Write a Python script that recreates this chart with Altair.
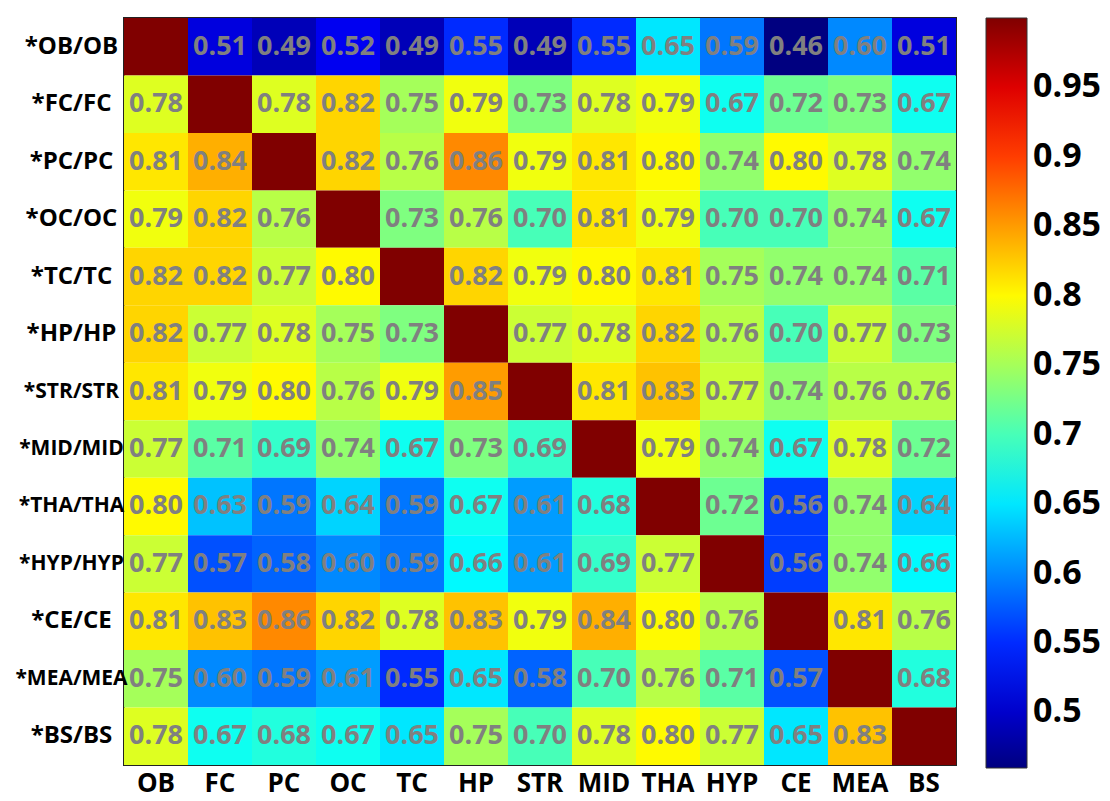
import altair as alt
import pandas as pd

cols = ["OB", "FC", "PC", "OC", "TC", "HP", "STR", "MID", "THA", "HYP", "CE", "MEA", "BS"]
rows = ["*OB/OB", "*FC/FC", "*PC/PC", "*OC/OC", "*TC/TC", "*HP/HP", "*STR/STR",
        "*MID/MID", "*THA/THA", "*HYP/HYP", "*CE/CE", "*MEA/MEA", "*BS/BS"]

row_OB = [1.00, 0.51, 0.49, 0.52, 0.49, 0.55, 0.49, 0.55, 0.65, 0.59, 0.46, 0.60, 0.51]
row_FC = [0.78, 1.00, 0.78, 0.82, 0.75, 0.79, 0.73, 0.78, 0.79, 0.67, 0.72, 0.73, 0.67]
row_PC = [0.81, 0.84, 1.00, 0.82, 0.76, 0.86, 0.79, 0.81, 0.80, 0.74, 0.80, 0.78, 0.74]
row_OC = [0.79, 0.82, 0.76, 1.00, 0.73, 0.76, 0.70, 0.81, 0.79, 0.70, 0.70, 0.74, 0.67]
row_TC = [0.82, 0.82, 0.77, 0.80, 1.00, 0.82, 0.79, 0.80, 0.81, 0.75, 0.74, 0.74, 0.71]
row_HP = [0.82, 0.77, 0.78, 0.75, 0.73, 1.00, 0.77, 0.78, 0.82, 0.76, 0.70, 0.77, 0.73]
row_STR = [0.81, 0.79, 0.80, 0.76, 0.79, 0.85, 1.00, 0.81, 0.83, 0.77, 0.74, 0.76, 0.76]
row_MID = [0.77, 0.71, 0.69, 0.74, 0.67, 0.73, 0.69, 1.00, 0.79, 0.74, 0.67, 0.78, 0.72]
row_THA = [0.80, 0.63, 0.59, 0.64, 0.59, 0.67, 0.61, 0.68, 1.00, 0.72, 0.56, 0.74, 0.64]
row_HYP = [0.77, 0.57, 0.58, 0.60, 0.59, 0.66, 0.61, 0.69, 0.77, 1.00, 0.56, 0.74, 0.66]
row_CE = [0.81, 0.83, 0.86, 0.82, 0.78, 0.83, 0.79, 0.84, 0.80, 0.76, 1.00, 0.81, 0.76]
row_MEA = [0.75, 0.60, 0.59, 0.61, 0.55, 0.65, 0.58, 0.70, 0.76, 0.71, 0.57, 1.00, 0.68]
row_BS = [0.78, 0.67, 0.68, 0.67, 0.65, 0.75, 0.70, 0.78, 0.80, 0.77, 0.65, 0.83, 1.00]

matrix = [row_OB, row_FC, row_PC, row_OC, row_TC, row_HP, row_STR,
          row_MID, row_THA, row_HYP, row_CE, row_MEA, row_BS]

legend_ticks = [0.5, 0.55, 0.6, 0.65, 0.7, 0.75, 0.8, 0.85, 0.9, 0.95]

# jet colormap stops over [0.46, 1.0]
cmin, cmax = 0.46, 1.0
jet_frac = [0.0, 0.125, 0.375, 0.625, 0.875, 1.0]
jet_cols = ["#000080", "#0000ff", "#00ffff", "#ffff00", "#ff0000", "#800000"]
jet_domain = [cmin + f * (cmax - cmin) for f in jet_frac]

records = []
for r, vals in zip(rows, matrix):
    for c, v in zip(cols, vals):
        records.append({"row": r, "col": c, "value": v})
df = pd.DataFrame(records)

FONT = "Open Sans"

x_enc = alt.X("col:N", sort=cols, title=None,
              axis=alt.Axis(labelAngle=0, labelFontSize=26, labelFontWeight="bold",
                            labelColor="black", labelFont=FONT, ticks=False,
                            domain=False, labelPadding=5))
y_enc = alt.Y("row:N", sort=rows, title=None,
              axis=alt.Axis(labelFontSize={"condition": {"test": "length(datum.label) > 7",
                                                         "value": 21},
                                           "value": 24},
                            labelFontWeight="bold", labelColor="black",
                            labelFont=FONT, ticks=False, domain=False,
                            labelAlign="center", labelPadding=53, labelLimit=200))

heat = alt.Chart(df).mark_rect().encode(
    x=x_enc,
    y=y_enc,
    color=alt.Color("value:Q",
                    scale=alt.Scale(domain=jet_domain, range=jet_cols, interpolate="rgb"),
                    legend=alt.Legend(title=None, orient="right", direction="vertical",
                                      gradientLength=750, gradientThickness=41,
                                      gradientStrokeColor="#333", gradientStrokeWidth=1,
                                      values=legend_ticks, format=".2~f",
                                      labelFontSize=34, labelFontWeight="bold",
                                      labelFont=FONT, labelColor="black",
                                      labelOffset=6, labelOverlap=False,
                                      offset=30, padding=0)),
)

text = alt.Chart(df).transform_filter("datum.value < 1").mark_text(
    fontSize=27, fontWeight="bold", font=FONT, color="#808080"
).encode(
    x=alt.X("col:N", sort=cols),
    y=alt.Y("row:N", sort=rows),
    text=alt.Text("value:Q", format=".2f"),
)

chart = (heat + text).properties(
    width=832, height=747,
    autosize=alt.AutoSizeParams(type="none"),
    padding={"left": 116, "top": 10, "right": 146, "bottom": 28},
).configure_view(stroke="#222", strokeWidth=2).configure_scale(bandPaddingInner=0)

chart.save("out.html", embed_options={"renderer": "svg", "actions": False})
